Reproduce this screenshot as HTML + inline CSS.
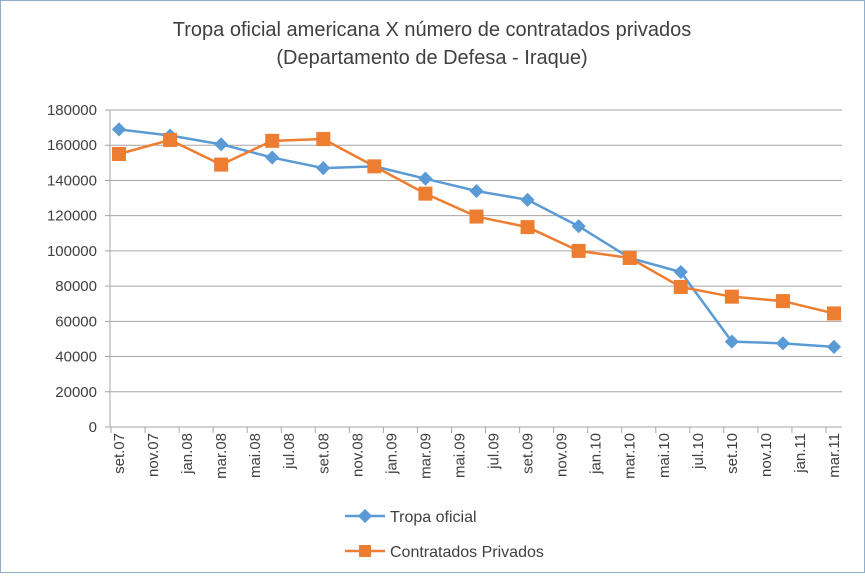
<!DOCTYPE html>
<html><head><meta charset="utf-8"><style>
body{margin:0;background:#fff;font-family:"Liberation Sans",sans-serif}
svg text{font-family:"Liberation Sans",sans-serif;fill:#404040}
</style></head><body>
<svg width="865" height="573">
<rect x="0.5" y="0.5" width="864" height="572" fill="#fff" stroke="#8eaecb"/>
<text x="432" y="36" text-anchor="middle" font-size="20">Tropa oficial americana X número de contratados privados</text>
<text x="432" y="64" text-anchor="middle" font-size="20">(Departamento de Defesa - Iraque)</text>
<g id="grid"></g><g id="axes"></g><g id="series"></g>
<g>
<g>
<line x1="345" y1="516" x2="385" y2="516" stroke="#5b9bd5" stroke-width="2.5"/>
<rect x="360" y="511" width="10" height="10" fill="#5b9bd5" transform="rotate(45 365 516)"/>
<text x="390" y="522" font-size="16">Tropa oficial</text></g>
<g>
<line x1="345" y1="551" x2="385" y2="551" stroke="#ed7d31" stroke-width="2.5"/>
<rect x="359" y="545" width="12" height="12" fill="#ed7d31"/>
<text x="390" y="557" font-size="16">Contratados Privados</text></g>
</g>
</svg>
<script>
const tickLabels=["set.07","nov.07","jan.08","mar.08","mai.08","jul.08","set.08","nov.08","jan.09","mar.09","mai.09","jul.09","set.09","nov.09","jan.10","mar.10","mai.10","jul.10","set.10","nov.10","jan.11","mar.11"];
const pointMonths=[0,3,6,9,12,15,18,21,24,27,30,33,36,39,42];
const tropa=[169000,165500,160500,153000,147000,148000,141000,134000,129000,114000,96000,88000,48500,47500,45500];
const contratados=[155000,163000,149000,162500,163500,148000,132500,119500,113500,100000,96000,79500,74000,71500,64500];
const yTicks=[0,20000,40000,60000,80000,100000,120000,140000,160000,180000];
const NS="http://www.w3.org/2000/svg";
const x0=110,x1=842,y0=427,y1=110;
function xm(m){return 119+m*(834-119)/42;}
function yv(v){return y0-(v/180000)*(y0-y1);}
function mk(t,a,p){const e=document.createElementNS(NS,t);for(const k in a)e.setAttribute(k,a[k]);p.appendChild(e);return e;}
const grid=document.getElementById('grid'),axes=document.getElementById('axes'),ser=document.getElementById('series');
yTicks.forEach(v=>{
 const l=mk('line',{x1:x0-5,x2:x1,y1:yv(v),y2:yv(v),stroke:'#a6a6a6'},grid);
 
 
 const t=mk('text',{x:97,y:yv(v)+5,'text-anchor':'end','font-size':15},axes);
 t.textContent=v;
 
 
});
const ya=mk('line',{x1:x0,x2:x0,y1:y1,y2:y0,stroke:'#a6a6a6'},axes);


tickLabels.forEach((s,i)=>{
 const x=xm(i*2);
 if(x>x1+20)return;
 const tk=mk('line',{x1:x-8,x2:x-8,y1:y0,y2:y0+6,stroke:'#a6a6a6'},axes);
 
 
 const t=mk('text',{x:0,y:0,'text-anchor':'end','font-size':15,transform:`translate(${x+5},${y0+6}) rotate(-90)`},axes);
 t.textContent=s;
 
 
});
function drawSeries(vals,color,shape,name){
 const g=mk('g',{},ser);
 
 
 mk('polyline',{points:vals.map((v,i)=>xm(pointMonths[i])+','+yv(v)).join(' '),fill:'none',stroke:color,'stroke-width':2.5},g);
 vals.forEach((v,i)=>{
  const x=xm(pointMonths[i]),y=yv(v);let m;
  if(shape==='d')m=mk('rect',{x:x-5,y:y-5,width:10,height:10,fill:color,transform:`rotate(45 ${x} ${y})`},g);
  else m=mk('rect',{x:x-7,y:y-7,width:14,height:14,fill:color},g);
  
  
 });
}
drawSeries(tropa,'#5b9bd5','d','series-tropa-oficial');
drawSeries(contratados,'#ed7d31','s','series-contratados-privados');
</script>
</body></html>
